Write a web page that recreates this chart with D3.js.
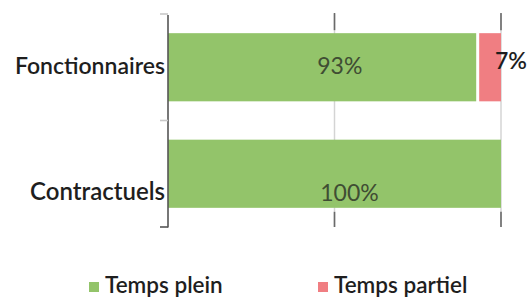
<!DOCTYPE html>
<html><head><meta charset="utf-8">
<script src="https://cdn.jsdelivr.net/npm/d3@7"></script>
<style>body{margin:0;background:#fff}svg{display:block}</style>
</head><body>
<script>
const categories = ["Fonctionnaires", "Contractuels"];
const seriesNames = ["Temps plein", "Temps partiel"];
const tempsPlein = [93, 100];
const tempsPartiel = [7, 0];
const xTicks = [0, 50, 100];

const W = 528, H = 298;
const colors = ["#93c46a", "#f07e82"];
const svg = d3.select("body").append("svg").attr("width", W).attr("height", H);

const x = d3.scaleLinear().domain([0, 100]).range([168, 501]);
const y = d3.scaleBand().domain(categories).range([14, 227]).paddingInner(0.36).paddingOuter(0.18);

const rows = categories.map((c, i) => ({cat: c, vals: [tempsPlein[i], tempsPartiel[i]]}));
const stack = d3.stack().keys([0, 1]).value((d, k) => d.vals[k])(rows);

// gridlines
const g = svg.append("g");
xTicks.slice(1).forEach(t => {
  g.append("line").attr("x1", x(t)).attr("x2", x(t)).attr("y1", y.range()[0]).attr("y2", y.range()[1])
    .attr("stroke", "#d4d4d4").attr("stroke-width", 1.5);
  g.append("line").attr("x1", x(t)).attr("x2", x(t)).attr("y1", 13).attr("y2", y(categories[0]) - 3)
    .attr("stroke", "#6a6a6a").attr("stroke-width", 1.6);
  g.append("line").attr("x1", x(t)).attr("x2", x(t)).attr("y1", y(categories[1]) + y.bandwidth() + 4).attr("y2", 227)
    .attr("stroke", "#6a6a6a").attr("stroke-width", 1.6);
});

// bars
stack.forEach((s, k) => {
  svg.append("g").selectAll("rect").data(s.filter(d => d[1] - d[0] > 0)).join("rect")
    .attr("x", d => x(d[0]) + (k === 1 ? 1.5 : 0))
    .attr("width", d => x(d[1]) - x(d[0]) - (k === 1 ? 1.5 : 0) - (k === 0 && d.data.vals[1] > 0 ? 1.5 : 0))
    .attr("y", d => y(d.data.cat))
    .attr("height", y.bandwidth())
    .attr("fill", colors[k]);
});

// left axis
svg.append("line").attr("x1", x(0)).attr("x2", x(0)).attr("y1", 15).attr("y2", 227.5)
  .attr("stroke", "#555").attr("stroke-width", 1.6);
const catEdges = [y.range()[0], (y(categories[0]) + y.bandwidth() + y(categories[1])) / 2, y.range()[1]];
catEdges.forEach((e, i) => {
  svg.append("line").attr("x1", x(0) - 8).attr("x2", x(0)).attr("y1", e).attr("y2", e)
    .attr("stroke", i === 2 ? "#555" : "#c8c8c8").attr("stroke-width", 1.6);
});

// category labels
const labelSize = [23, 24];
const labelDy = [7, 26];
svg.append("g").selectAll("text").data(categories).join("text")
  .attr("x", x(0) - 3)
  .attr("y", (d, i) => y(d) + y.bandwidth() / 2 + labelDy[i])
  .attr("text-anchor", "end")
  .attr("font-family", "Lato").attr("font-size", (d, i) => labelSize[i]).attr("font-weight", 600)
  .attr("fill", "#1e1e1e").text(d => d);

// data labels
const dataDx = [17, 15];
const dataDy = [7, 27];
rows.forEach((r, i) => {
  const mid = r.vals[0] / 2;
  svg.append("text")
    .attr("x", x(mid) + dataDx[i])
    .attr("y", y(r.cat) + y.bandwidth() / 2 + dataDy[i])
    .attr("text-anchor", "middle")
    .attr("font-family", "Lato").attr("font-size", 23)
    .attr("fill", "#3f4d33").text(r.vals[0] + "%");
  if (r.vals[1] > 0) {
    svg.append("text")
      .attr("x", x(100) - 6)
      .attr("y", y(r.cat) + y.bandwidth() / 2 + 2)
      .attr("font-family", "Lato").attr("font-size", 23).attr("font-weight", 600)
      .attr("fill", "#1e1e1e").text(r.vals[1] + "%");
  }
});

// legend
const legX = [89, 318];
seriesNames.forEach((n, i) => {
  svg.append("rect").attr("x", legX[i]).attr("y", 282).attr("width", 10).attr("height", 10).attr("fill", colors[i]);
  svg.append("text").attr("x", legX[i] + 16).attr("y", 293)
    .attr("font-family", "Lato").attr("font-size", 22.5).attr("font-weight", 600)
    .attr("fill", "#1e1e1e").text(n);
});
</script>
</body></html>
